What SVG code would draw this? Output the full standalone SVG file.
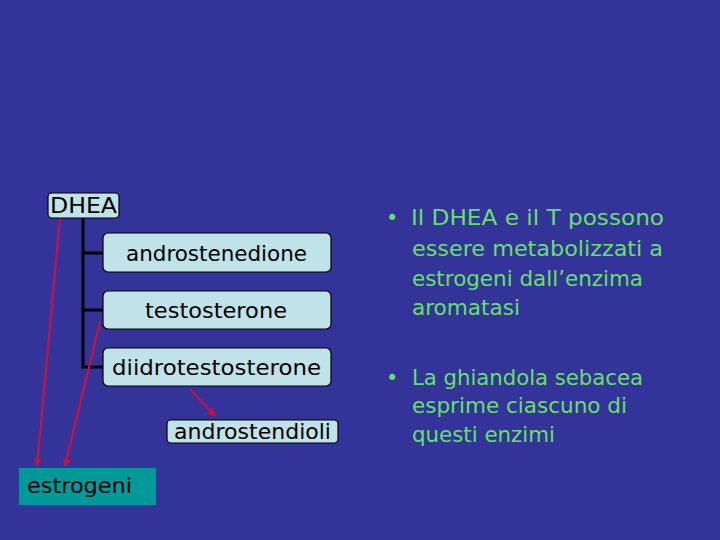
<svg xmlns="http://www.w3.org/2000/svg" width="720" height="540" viewBox="0 0 720 540">
<defs>
<style>
.box{fill:#bfe3e8;stroke:#000;stroke-width:1.2}
.lbl{font-family:"Comic Sans MS","DejaVu Sans","Liberation Sans",sans-serif;font-size:21px;fill:#000}
.txt{font-family:"Comic Sans MS","DejaVu Sans","Liberation Sans",sans-serif;font-size:21px;fill:#66e066}
.tree{stroke:#000;stroke-width:3;fill:none}
.red{stroke:#d0103a;stroke-width:2;fill:none;marker-end:url(#ah)}
</style>
<marker id="ah" viewBox="0 0 10 10" refX="9" refY="5" markerWidth="4" markerHeight="4" orient="auto">
<path d="M0,0 L10,5 L0,10 z" fill="#d0103a"/>
</marker>
</defs>
<rect width="720" height="540" fill="#333399"/>
<g id="connectors">
<path class="tree" d="M83,218 V367 H103 M83,253 H103 M83,310 H103"/>
<line class="red" x1="60" y1="218" x2="37" y2="466"/>
<line class="red" x1="100" y1="322" x2="65" y2="466"/>
<line class="red" x1="190" y1="389" x2="215" y2="416"/>
</g>
<g id="dhea">
<rect class="box" x="48" y="193" width="71" height="25" rx="4"/>
<text class="lbl" x="50" y="213" textLength="67" lengthAdjust="spacingAndGlyphs">DHEA</text>
</g>
<g id="androstenedione">
<rect class="box" x="103" y="233" width="228" height="39" rx="5"/>
<text class="lbl" x="126" y="261" textLength="181" lengthAdjust="spacingAndGlyphs">androstenedione</text>
</g>
<g id="testosterone">
<rect class="box" x="103" y="291" width="228" height="38" rx="5"/>
<text class="lbl" x="145" y="318" textLength="142" lengthAdjust="spacingAndGlyphs">testosterone</text>
</g>
<g id="diidrotestosterone">
<rect class="box" x="103" y="348" width="228" height="38" rx="5"/>
<text class="lbl" x="112" y="375" textLength="209" lengthAdjust="spacingAndGlyphs">diidrotestosterone</text>
</g>
<g id="androstendioli">
<rect class="box" x="167" y="420" width="171" height="23" rx="4"/>
<text class="lbl" x="174" y="439" textLength="157" lengthAdjust="spacingAndGlyphs">androstendioli</text>
</g>
<g id="estrogeni">
<rect x="19" y="468" width="137" height="37" fill="#009999"/>
<text class="lbl" x="27" y="493" textLength="105" lengthAdjust="spacingAndGlyphs">estrogeni</text>
</g>
<g id="notes">
<text class="txt" x="386" y="225">•</text>
<text class="txt" x="411" y="225" textLength="253" lengthAdjust="spacingAndGlyphs">Il DHEA e il T possono</text>
<text class="txt" x="412" y="256" textLength="251" lengthAdjust="spacingAndGlyphs">essere metabolizzati a</text>
<text class="txt" x="412" y="286" textLength="231" lengthAdjust="spacingAndGlyphs">estrogeni dall’enzima</text>
<text class="txt" x="412" y="315" textLength="108" lengthAdjust="spacingAndGlyphs">aromatasi</text>
<text class="txt" x="386" y="385">•</text>
<text class="txt" x="412" y="385" textLength="231" lengthAdjust="spacingAndGlyphs">La ghiandola sebacea</text>
<text class="txt" x="412" y="413" textLength="215" lengthAdjust="spacingAndGlyphs">esprime ciascuno di</text>
<text class="txt" x="412" y="442" textLength="143" lengthAdjust="spacingAndGlyphs">questi enzimi</text>
</g>
</svg>
